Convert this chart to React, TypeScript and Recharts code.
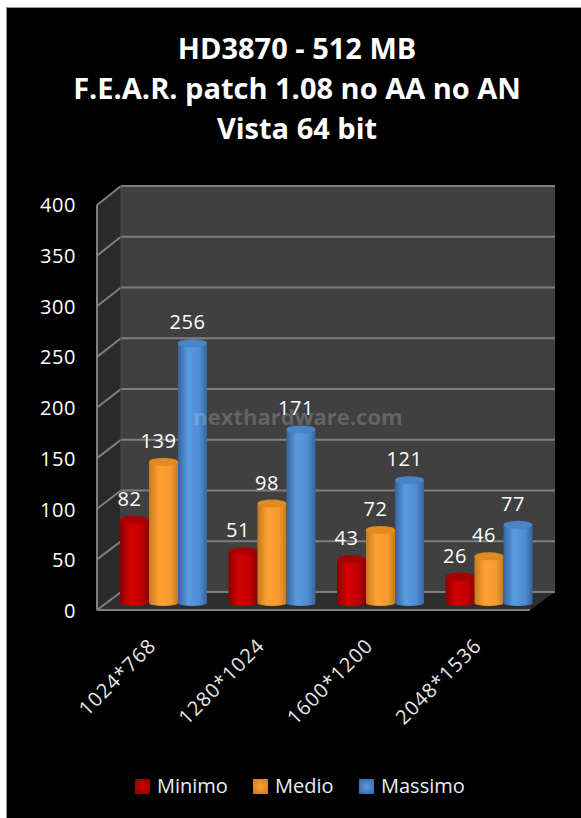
import { BarChart, Bar, XAxis, YAxis, Legend, LabelList, Customized } from 'recharts';

const categories = ['1024*768', '1280*1024', '1600*1200', '2048*1536'];
const minimo = [82, 51, 43, 26];
const medio = [139, 98, 72, 46];
const massimo = [256, 171, 121, 77];
const yTicks = [0, 50, 100, 150, 200, 250, 300, 350, 400];
const titleLines = ['HD3870 - 512 MB', 'F.E.A.R. patch 1.08 no AA no AN', 'Vista 64 bit'];

const data = categories.map((name, i) => ({
  name,
  Minimo: minimo[i],
  Medio: medio[i],
  Massimo: massimo[i],
}));

const WIDTH = 581;
const HEIGHT = 818;
const FONT = '"Open Sans", sans-serif';

// the fake 3D box behind the bars
const BACK = { left: 121, right: 555, top: 186, bottom: 592 };
const FRONT = { left: 97, right: 530, top: 205, bottom: 610 };
const LINE = '#7f7f7f';

const SERIES = [
  { key: 'Minimo', id: 'cylRed', dark: '#8a0000', mid: '#d40000', light: '#c00000', top: '#a80000' },
  { key: 'Medio', id: 'cylOrange', dark: '#c47a1e', mid: '#ffa033', light: '#f59a30', top: '#e08a20' },
  { key: 'Massimo', id: 'cylBlue', dark: '#35659f', mid: '#5a9be0', light: '#4f8bd0', top: '#4a83c6' },
];

const Box = () => {
  const backY = (v: number) => BACK.bottom - (v / 400) * (BACK.bottom - BACK.top);
  const frontY = (v: number) => FRONT.bottom - (v / 400) * (FRONT.bottom - FRONT.top);
  return (
    <g>
      <rect x={BACK.left} y={BACK.top} width={BACK.right - BACK.left} height={BACK.bottom - BACK.top} fill="#404040" />
      <polygon
        points={`${FRONT.left},${FRONT.top} ${BACK.left},${BACK.top} ${BACK.left},${BACK.bottom} ${FRONT.left},${FRONT.bottom}`}
        fill="#2a2a2a"
      />
      <polygon
        points={`${FRONT.left},${FRONT.bottom} ${BACK.left},${BACK.bottom} ${BACK.right},${BACK.bottom} ${FRONT.right},${FRONT.bottom}`}
        fill="#2e2e2e"
      />
      {yTicks.map((v) => (
        <g key={v} stroke={LINE} strokeWidth={2}>
          <line x1={BACK.left} x2={BACK.right} y1={backY(v)} y2={backY(v)} />
          <line x1={FRONT.left} x2={BACK.left} y1={frontY(v)} y2={backY(v)} />
        </g>
      ))}
      <line x1={FRONT.left} x2={FRONT.left} y1={FRONT.top} y2={FRONT.bottom} stroke={LINE} strokeWidth={2} />
      <line x1={FRONT.left} x2={FRONT.right} y1={FRONT.bottom} y2={FRONT.bottom} stroke={LINE} strokeWidth={2} />
      <line x1={BACK.left} x2={BACK.left} y1={BACK.top} y2={BACK.bottom} stroke="#4a4a4a" strokeWidth={1} />
      {titleLines.map((line, i) => (
        <text
          key={line}
          x={297}
          y={59 + i * 40}
          textAnchor="middle"
          fontFamily={FONT}
          fontSize={29}
          fontWeight={700}
          fill="#fff"
        >
          {line}
        </text>
      ))}
    </g>
  );
};

const Cylinder = (props: any) => {
  const { x, y, width, height, gradient, top } = props;
  const bottom = y + height;
  const d = `M${x},${y} L${x},${bottom} A${width / 2},3 0 0 0 ${x + width},${bottom} L${x + width},${y} Z`;
  return (
    <g>
      <path d={d} fill={`url(#${gradient})`} />
      <ellipse cx={x + width / 2} cy={y} rx={width / 2} ry={4} fill={top} />
    </g>
  );
};

const YTick = ({ x, y, payload }: any) => (
  <text x={x - 25} y={y + 15} textAnchor="end" fontFamily={FONT} fontSize={20} letterSpacing={0.6} fill="#fff">
    {payload.value}
  </text>
);

const XTick = ({ x, y, payload }: any) => {
  const px = x - 6;
  const py = y + 36;
  return (
    <text
      x={px}
      y={py}
      textAnchor="end"
      transform={`rotate(-45 ${px} ${py})`}
      fontFamily={FONT}
      fontSize={20}
      letterSpacing={1}
      fill="#e6e6e6"
    >
      {payload.value}
    </text>
  );
};

const BarValue = ({ x, y, width, value }: any) => (
  <text
    x={x + width / 2 - 5}
    y={y - 14}
    textAnchor="middle"
    fontFamily={FONT}
    fontSize={20}
    letterSpacing={0.6}
    fill="#fff"
  >
    {value}
  </text>
);

const LegendRow = () => (
  <div style={{ position: 'absolute', left: 0, top: 0, width: WIDTH, height: 0 }}>
    {SERIES.map((s, i) => {
      const pos = [135, 253, 359][i];
      return (
        <div
          key={s.key}
          style={{
            position: 'absolute',
            left: pos,
            top: -44,
            display: 'flex',
            alignItems: 'center',
            fontFamily: FONT,
            fontSize: 20,
            color: '#e8eef5',
            lineHeight: '24px',
          }}
        >
          <span
            style={{
              display: 'inline-block',
              width: 15,
              height: 15,
              marginRight: 7,
              background: `radial-gradient(circle, ${s.mid}, ${s.dark})`,
            }}
          />
          {s.key}
        </div>
      );
    })}
  </div>
);

const App = () => (
  <div style={{ position: 'absolute', left: 0, top: 0, width: WIDTH, height: HEIGHT, background: '#fff', overflow: 'hidden' }}>
    <div
      style={{
        position: 'absolute',
        left: 6,
        top: 7,
        width: WIDTH,
        height: HEIGHT,
        background: '#000',
        borderLeft: '1px solid #999',
        borderTop: '1px solid #999',
      }}
    />
    <div style={{ position: 'absolute', left: 0, top: 0 }}>
      <BarChart
        width={WIDTH}
        height={HEIGHT}
        data={data}
        margin={{ top: 197, right: 38, bottom: 0, left: 0 }}
        barGap={0}
        barSize={29}
      >
        <defs>
          {SERIES.map((s) => (
            <linearGradient key={s.id} id={s.id} x1="0" y1="0" x2="1" y2="0">
              <stop offset="0%" stopColor={s.dark} />
              <stop offset="35%" stopColor={s.mid} />
              <stop offset="75%" stopColor={s.light} />
              <stop offset="100%" stopColor={s.dark} />
            </linearGradient>
          ))}
        </defs>
        <Customized component={Box} />
        <XAxis dataKey="name" axisLine={false} tickLine={false} height={215} interval={0} tick={<XTick />} />
        <YAxis
          width={109}
          domain={[0, 400]}
          ticks={yTicks}
          axisLine={false}
          tickLine={false}
          interval={0}
          tick={<YTick />}
        />
        <Legend content={() => <LegendRow />} verticalAlign="bottom" />
        {SERIES.map((s) => (
          <Bar
            key={s.key}
            dataKey={s.key}
            isAnimationActive={false}
            fill={s.mid}
            shape={(p: any) => <Cylinder {...p} gradient={s.id} top={s.top} />}
          >
            <LabelList dataKey={s.key} content={<BarValue />} />
          </Bar>
        ))}
      </BarChart>
    </div>
    {/* the site's stamp goes over the bars, so it stays out of the chart's svg */}
    <div
      style={{
        position: 'absolute',
        left: 0,
        top: 401,
        width: 596,
        textAlign: 'center',
        fontFamily: FONT,
        fontSize: 22,
        fontWeight: 700,
        lineHeight: '30px',
        color: 'rgba(255,255,255,0.2)',
        pointerEvents: 'none',
      }}
    >
      nexthardware.com
    </div>
  </div>
);

export default App;
